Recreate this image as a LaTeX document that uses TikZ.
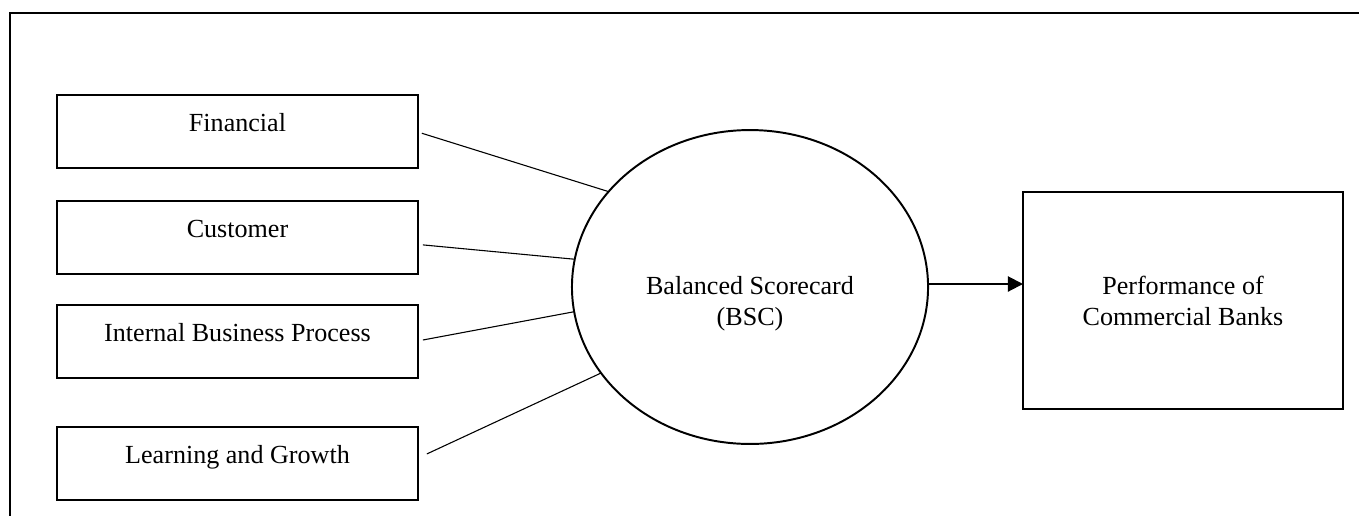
\documentclass[tikz,border=0pt]{standalone}
\usepackage{fontspec}
\setmainfont{Liberation Serif}
\usepackage{tikz}
\usetikzlibrary{positioning}
\usetikzlibrary{shapes.geometric}
\usetikzlibrary{arrows.meta}
\tikzset{>={Triangle[length=7pt,width=7pt]}}
\tikzset{
  dimbox/.style={draw, line width=0.9pt, minimum width=166pt, minimum height=33.6pt,
    inner sep=0pt, text height=8pt, text depth=8pt, font=\fontsize{12}{14.3}\selectfont},
  link/.style={line width=0.5pt}
}
\begin{document}
\begin{tikzpicture}[x=0.46pt, y=-0.46pt, inner sep=0pt, outer sep=0pt]
\useasboundingbox (0, 0) rectangle (1359, 515);
\draw[line width=0.9pt] (10, 520) -- (10, 13) -- (1365, 13);
\node[dimbox] (fin) at (237.5, 131.5) {Financial};
\node[dimbox] (cus) at (237.5, 237.5) {Customer};
\node[dimbox] (ibp) at (237.5, 341.5) {Internal Business Process};
\node[dimbox] (lag) at (237.5, 463.5) {Learning and Growth};
\node[draw, ellipse, line width=0.9pt, minimum width=163.8pt, minimum height=144.4pt,
  label={[yshift=-7.6pt, align=center, font=\fontsize{12}{14.3}\selectfont]center:Balanced Scorecard\\(BSC)}] (bsc) at (750, 287) {};
\node[draw, line width=0.9pt, minimum width=147.2pt, minimum height=99.4pt,
  align=center, font=\fontsize{12}{14.3}\selectfont] (perf) at (1183, 300.5)
  {Performance of\\Commercial Banks};
\draw[link] ([xshift=1.8pt, yshift=-0.8pt]fin.east) -- (bsc.146);
\draw[link] ([xshift=2.3pt, yshift=-3.4pt]cus.east) -- (bsc.171);
\draw[link] ([xshift=2.3pt, yshift=0.7pt]ibp.east) -- (bsc.188);
\draw[link] ([xshift=4.1pt, yshift=4.4pt]lag.east) -- (bsc.210);
\draw[->, line width=0.9pt] (bsc.east |- 0, 284) -- (perf.west |- 0, 284);
\end{tikzpicture}
\end{document}
